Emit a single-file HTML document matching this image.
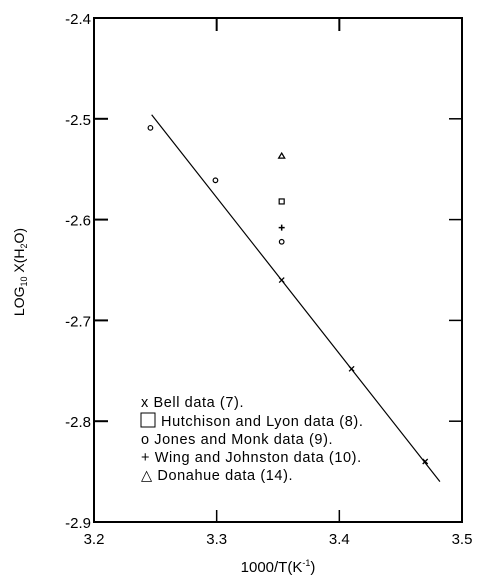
<!DOCTYPE html>
<html><head><meta charset="utf-8"><style>
body{margin:0;background:#fff}
text{font-family:"Liberation Sans",sans-serif;fill:#000}
</style></head><body>
<svg id="chart" width="491" height="583" viewBox="0 0 491 583" xmlns="http://www.w3.org/2000/svg">
<g id="axes"></g>
<g id="marks"></g>
<text transform="translate(24,272) rotate(-90)" text-anchor="middle" font-size="14">LOG<tspan font-size="9" dy="3">10</tspan><tspan dy="-3"> X(H</tspan><tspan font-size="9" dy="3">2</tspan><tspan dy="-3">O)</tspan></text>
<text x="278" y="572" text-anchor="middle" font-size="15">1000/T(K<tspan font-size="9" dy="-6">-1</tspan><tspan dy="6">)</tspan></text>
<g font-size="14.5" letter-spacing="0.6">
<text x="141" y="407">x Bell data (7).</text>
<rect x="141" y="413" width="14" height="14" fill="none" stroke="#000"/>
<text x="161" y="426">Hutchison and Lyon data (8).</text>
<text x="141" y="444">o Jones and Monk data (9).</text>
<text x="141" y="462">+ Wing and Johnston data (10).</text>
<text x="141" y="480">△ Donahue data (14).</text>
</g>
</svg>
<script>
const xTicks=[3.2,3.3,3.4,3.5];
const xTickLabels=["3.2","3.3","3.4","3.5"];
const yTicks=[-2.4,-2.5,-2.6,-2.7,-2.8,-2.9];
const yTickLabels=["-2.4","-2.5","-2.6","-2.7","-2.8","-2.9"];
const bellX=[3.353,3.410,3.470];
const bellY=[-2.660,-2.748,-2.840];
const hutchX=[3.353];
const hutchY=[-2.582];
const jonesX=[3.246,3.299,3.353];
const jonesY=[-2.509,-2.561,-2.622];
const wingX=[3.353];
const wingY=[-2.608];
const donahueX=[3.353];
const donahueY=[-2.537];
const fitX=[3.247,3.482];
const fitY=[-2.496,-2.860];
const X0=94,X1=462,Y0=18,Y1=522;
function sx(v){return X0+(v-3.2)/0.3*(X1-X0);}
function sy(v){return Y0+(-2.4-v)/0.5*(Y1-Y0);}
const NS="http://www.w3.org/2000/svg";
function mk(tag,attrs,parent){const e=document.createElementNS(NS,tag);for(const k in attrs)e.setAttribute(k,attrs[k]);parent.appendChild(e);return e;}
const ax=document.getElementById('axes'),mg=document.getElementById('marks');
let f=mk('rect',{x:X0,y:Y0,width:X1-X0,height:Y1-Y0,fill:'none',stroke:'#000','stroke-width':2},ax);


xTicks.forEach((t,i)=>{
 const x=sx(t);
 if(i>0&&i<xTicks.length-1){
  let a=mk('line',{x1:x,x2:x,y1:Y0,y2:Y0+13,stroke:'#000','stroke-width':2},ax);
  
  
  let b=mk('line',{x1:x,x2:x,y1:Y1,y2:Y1-12,stroke:'#000','stroke-width':1.5},ax);
  
  
 }
 let l=mk('text',{x:x,y:Y1+22,'text-anchor':'middle','font-size':15},ax);
 l.textContent=xTickLabels[i];
 
 
});
yTicks.forEach((t,i)=>{
 const y=sy(t);
 if(i>0&&i<yTicks.length-1){
  let a=mk('line',{x1:X0,x2:X0+14,y1:y,y2:y,stroke:'#000','stroke-width':2},ax);
  
  
  let b=mk('line',{x1:X1,x2:X1-13,y1:y,y2:y,stroke:'#000','stroke-width':1.5},ax);
  
  
 }
 let l=mk('text',{x:X0-3,y:y+6,'text-anchor':'end','font-size':15},ax);
 l.textContent=yTickLabels[i];
 
 
});
let fl=mk('line',{x1:sx(fitX[0]),y1:sy(fitY[0]),x2:sx(fitX[1]),y2:sy(fitY[1]),stroke:'#000','stroke-width':1.2},mg);


bellX.forEach((v,i)=>{const x=sx(v),y=sy(bellY[i]);
 let p=mk('path',{d:`M${x-2.5},${y-2.5}L${x+2.5},${y+2.5}M${x-2.5},${y+2.5}L${x+2.5},${y-2.5}`,stroke:'#000','stroke-width':1.3},mg);
 
 });
hutchX.forEach((v,i)=>{const x=sx(v),y=sy(hutchY[i]);
 let p=mk('rect',{x:x-2.5,y:y-2.5,width:5,height:5,fill:'none',stroke:'#000','stroke-width':1.2},mg);
 
 });
jonesX.forEach((v,i)=>{const x=sx(v),y=sy(jonesY[i]);
 let p=mk('circle',{cx:x,cy:y,r:2.3,fill:'none',stroke:'#000','stroke-width':1.2},mg);
 
 });
wingX.forEach((v,i)=>{const x=sx(v),y=sy(wingY[i]);
 let p=mk('path',{d:`M${x-3},${y}L${x+3},${y}M${x},${y-3}L${x},${y+3}`,stroke:'#000','stroke-width':1.5},mg);
 
 });
donahueX.forEach((v,i)=>{const x=sx(v),y=sy(donahueY[i]);
 let p=mk('path',{d:`M${x},${y-3}L${x+3},${y+2}L${x-3},${y+2}Z`,fill:'none',stroke:'#000','stroke-width':1.3},mg);
 
 });
</script>
</body></html>
